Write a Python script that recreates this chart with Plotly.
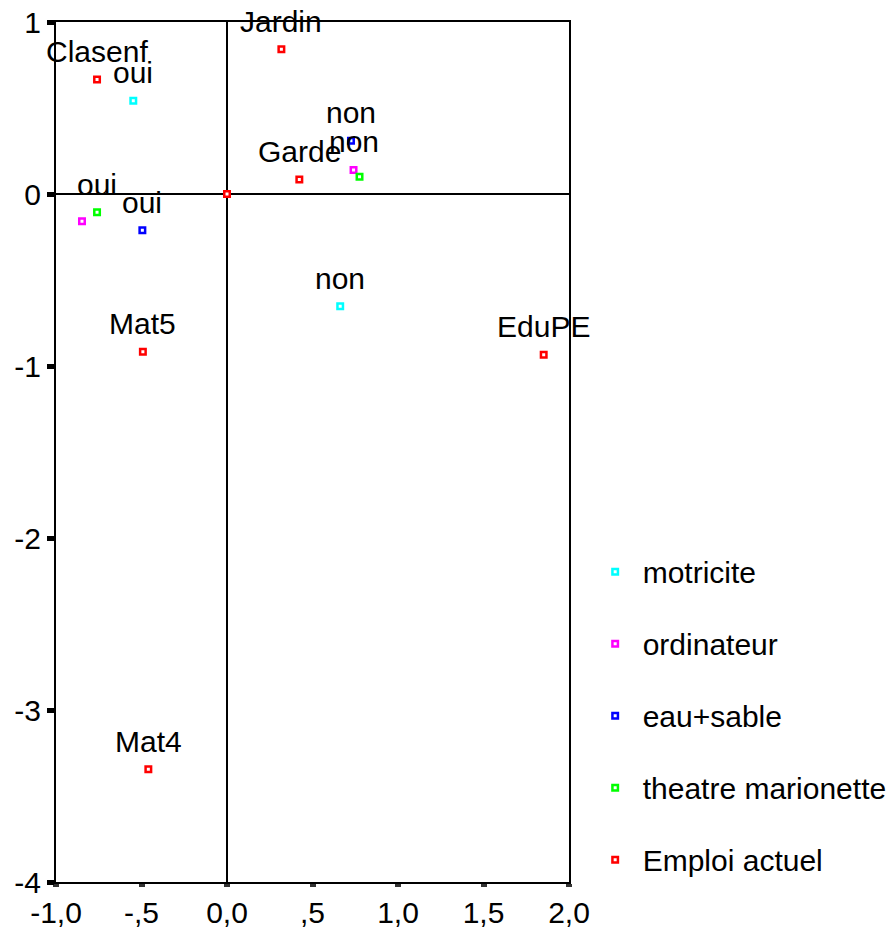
import plotly.graph_objects as go

# Category coordinates on the two dimensions, one list per variable
motricite_labels = ["oui", "non"]
motricite_x = [-0.548, 0.662]
motricite_y = [0.542, -0.653]

ordinateur_labels = ["oui", "non"]
ordinateur_x = [-0.848, 0.740]
ordinateur_y = [-0.159, 0.140]

eau_sable_labels = ["oui", "non"]
eau_sable_x = [-0.495, 0.725]
eau_sable_y = [-0.211, 0.310]

theatre_labels = ["oui", "non"]
theatre_x = [-0.760, 0.775]
theatre_y = [-0.106, 0.100]

emploi_labels = ["Clasenf", "Jardin", "Garde", "", "Mat5", "EduPE", "Mat4"]
emploi_x = [-0.760, 0.318, 0.423, 0.000, -0.492, 1.852, -0.460]
emploi_y = [0.665, 0.842, 0.085, 0.000, -0.917, -0.934, -3.345]

# labels that overlap a neighbour are not printed
motricite_shown = [True, True]
ordinateur_shown = [False, True]
eau_sable_shown = [True, True]
theatre_shown = [True, False]
emploi_shown = [True, True, True, False, True, True, True]

x_tickvals = [-1.0, -0.5, 0.0, 0.5, 1.0, 1.5, 2.0]
x_ticktext = ["-1,0", "-,5", "0,0", ",5", "1,0", "1,5", "2,0"]
y_tickvals = [1, 0, -1, -2, -3, -4]
y_ticktext = ["1", "0", "-1", "-2", "-3", "-4"]

series = [
    ("motricite", motricite_labels, motricite_x, motricite_y, motricite_shown, "#00FFFF"),
    ("ordinateur", ordinateur_labels, ordinateur_x, ordinateur_y, ordinateur_shown, "#FF00FF"),
    ("eau+sable", eau_sable_labels, eau_sable_x, eau_sable_y, eau_sable_shown, "#0000FF"),
    ("theatre marionette", theatre_labels, theatre_x, theatre_y, theatre_shown, "#00FF00"),
    ("Emploi actuel", emploi_labels, emploi_x, emploi_y, emploi_shown, "#FF0000"),
]

FONT = "Liberation Sans, Arial, sans-serif"
FS = 30

fig = go.Figure()
annotations = []
for i, (name, labels, xs, ys, shown, color) in enumerate(series):
    fig.add_trace(go.Scatter(
        x=xs, y=ys, mode="markers", name=name, legendgroup=name,
        marker=dict(symbol="square", size=5.5, color="white",
                    line=dict(color=color, width=2.5)),
        cliponaxis=False,
    ))
    for lab, x, y, s in zip(labels, xs, ys, shown):
        if s and lab:
            annotations.append(dict(
                x=x, y=y, xref="x", yref="y", text=lab, showarrow=False,
                xanchor="center", yanchor="middle", yshift=28,
                font=dict(family=FONT, size=FS, color="black"),
            ))

fig.update_layout(
    width=891, height=931,
    margin=dict(l=56, r=322, t=22, b=49, autoexpand=False),
    paper_bgcolor="white", plot_bgcolor="white",
    font=dict(family=FONT, size=FS, color="black"),
    annotations=annotations,
    showlegend=True,
    legend=dict(
        x=1.0364, y=0.391, xanchor="left", yanchor="top",
        font=dict(family=FONT, size=FS, color="black"),
        tracegroupgap=30, itemwidth=45, bgcolor="rgba(0,0,0,0)",
    ),
)
fig.update_xaxes(
    range=[-1, 2], tickvals=x_tickvals, ticktext=x_ticktext, automargin=False,
    showgrid=False, zeroline=True, zerolinecolor="black", zerolinewidth=2,
    showline=True, linecolor="black", linewidth=2, mirror=True,
    ticks="outside", ticklen=3, tickwidth=6, tickcolor="#333",
    tickfont=dict(family=FONT, size=FS, color="black"),
)
fig.update_yaxes(
    range=[-4, 1], tickvals=y_tickvals, ticktext=y_ticktext, automargin=False,
    showgrid=False, zeroline=True, zerolinecolor="black", zerolinewidth=2,
    showline=True, linecolor="black", linewidth=2, mirror=True,
    ticks="outside", ticklen=7, tickwidth=5, tickcolor="black",
    tickfont=dict(family=FONT, size=FS, color="black"),
)

fig.write_html("out.html")
